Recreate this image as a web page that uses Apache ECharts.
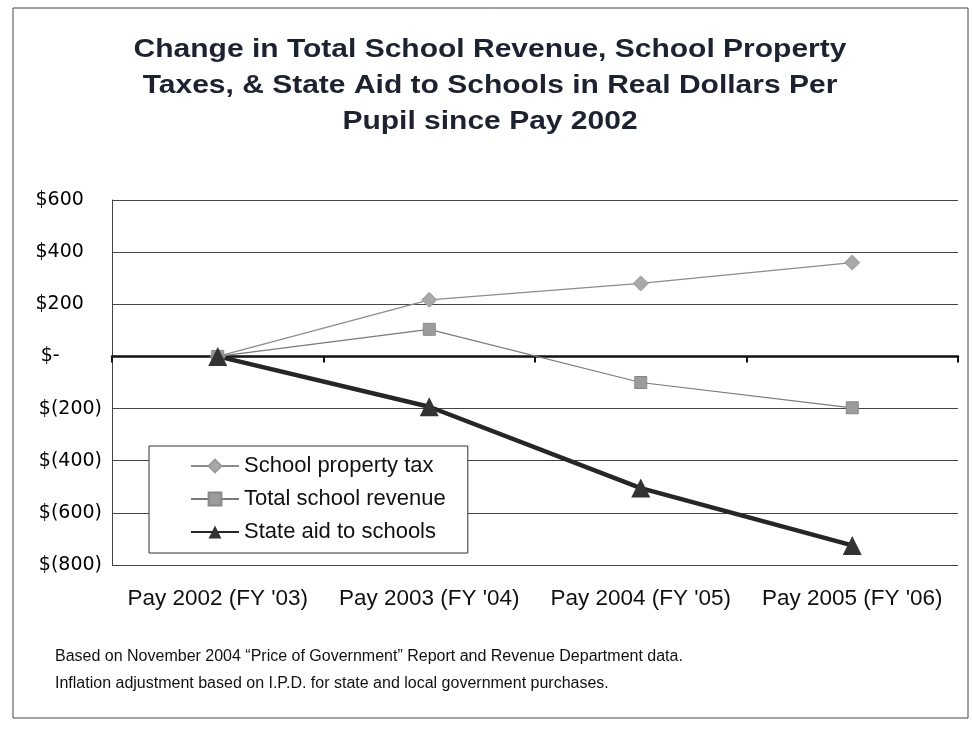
<!DOCTYPE html>
<html><head><meta charset="utf-8">
<script src="https://cdn.jsdelivr.net/npm/echarts@6/dist/echarts.min.js"></script>
<style>html,body{margin:0;padding:0;background:#fff}#c{width:972px;height:729px}</style>
</head><body><div id="c"></div>
<script>
const categories = ["Pay 2002 (FY '03)", "Pay 2003 (FY '04)", "Pay 2004 (FY '05)", "Pay 2005 (FY '06)"];
const propertyTax = [0, 217, 280, 360];
const totalRevenue = [0, 104, -100, -197];
const stateAid = [0, -193, -505, -725];
const yTicks = [-800, -600, -400, -200, 0, 200, 400, 600];
const seriesNames = ['School property tax', 'Total school revenue', 'State aid to schools'];
const titleText = 'Change in Total School Revenue, School Property\nTaxes, & State Aid to Schools in Real Dollars Per\nPupil since Pay 2002';

function fmt(v){
  if (v === 0) return '$-       ';
  if (v < 0) return '$(' + Math.abs(v) + ')';
  return '$' + v + '   ';
}

const chart = echarts.init(document.getElementById('c'));
const arial = 'Arial, "Liberation Sans", sans-serif';
const wide = '"DejaVu Sans", Verdana, sans-serif';
chart.setOption({
  animation: false,
  backgroundColor: '#fff',
  graphic: [
    {type: 'rect', shape: {x: 13, y: 8, width: 955, height: 710}, style: {fill: 'none', stroke: '#444', lineWidth: 1}, silent: true, z: -1},
    {type: 'text', x: 490, y: 32, scaleX: 1.2, style: {text: titleText, x: 0, y: 0, align: 'center', textAlign: 'center', verticalAlign: 'top', lineHeight: 36, font: 'bold 25px ' + arial, fill: '#1c2230'}},
    {type: 'text', left: 55, top: 649, style: {text: 'Based on November 2004 \u201cPrice of Government\u201d Report and Revenue Department data.', font: '16px ' + arial, fill: '#111'}},
    {type: 'text', left: 55, top: 676, style: {text: 'Inflation adjustment based on I.P.D. for state and local government purchases.', font: '16px ' + arial, fill: '#111'}}
  ],
  grid: {left: 112, right: 14, top: 200, bottom: 164},
  legend: {
    orient: 'vertical', left: 149, top: 446,
    padding: [9, 22, 10, 41],
    itemGap: 11,
    itemWidth: 48, itemHeight: 16,
    borderColor: '#333', borderWidth: 1, backgroundColor: '#fff',
    textStyle: {fontFamily: arial, fontSize: 22, color: '#111'},
    data: seriesNames
  },
  xAxis: [
    {
      type: 'category', data: categories, boundaryGap: true,
      axisLine: {onZero: true, lineStyle: {color: '#111', width: 2.5}},
      axisTick: {show: true, length: 6, lineStyle: {color: '#111', width: 2}},
      axisLabel: {show: false}, splitLine: {show: false}
    },
    {
      type: 'category', data: categories, boundaryGap: true, position: 'bottom',
      axisLine: {show: false}, axisTick: {show: false},
      axisLabel: {interval: 0, hideOverlap: false, fontFamily: arial, fontSize: 22.5, color: '#111', margin: 22}
    }
  ],
  yAxis: {
    type: 'value', min: -800, max: 600, interval: 200,
    axisLine: {show: true, lineStyle: {color: '#444', width: 1}},
    axisTick: {show: false},
    splitLine: {lineStyle: {color: '#444', width: 1}},
    axisLabel: {fontFamily: wide, fontSize: 19, color: '#000', margin: 10, formatter: fmt}
  },
  series: [
    {
      name: seriesNames[0], type: 'line', data: propertyTax, xAxisIndex: 0,
      symbol: 'diamond', symbolSize: 15,
      lineStyle: {color: '#8c8c8c', width: 1.2},
      itemStyle: {color: '#a9a9a9', borderColor: '#999', borderWidth: 1}
    },
    {
      name: seriesNames[1], type: 'line', data: totalRevenue, xAxisIndex: 0,
      symbol: 'rect', symbolSize: 12,
      lineStyle: {color: '#7a7a7a', width: 1.2},
      itemStyle: {color: '#9c9c9c', borderColor: '#888', borderWidth: 1}
    },
    {
      name: seriesNames[2], type: 'line', data: stateAid, xAxisIndex: 0,
      symbol: 'triangle', symbolSize: 19,
      lineStyle: {color: '#262626', width: 4.5},
      itemStyle: {color: '#333'}
    }
  ]
});
</script></body></html>
